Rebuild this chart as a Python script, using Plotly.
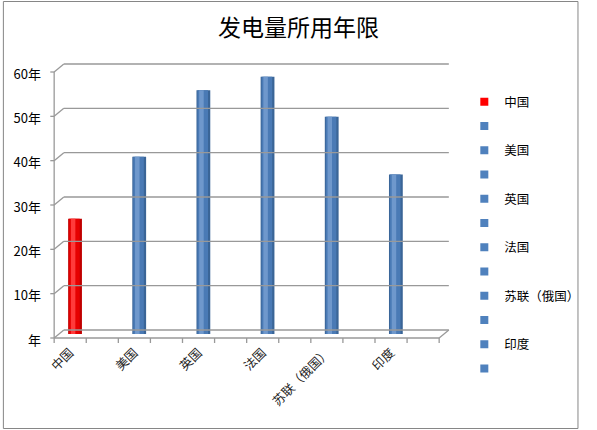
import plotly.graph_objects as go

title = "发电量所用年限"
categories = ["中国", "", "美国", "", "英国", "", "法国", "", "苏联（俄国）", "", "印度", ""]
values = [26, None, 40, None, 55, None, 58, None, 49, None, 36, None]
y_tickvals = [0, 10, 20, 30, 40, 50, 60]
y_ticktext = ["年", "10年", "20年", "30年", "40年", "50年", "60年"]

W, H = 597, 430
L, R, T, B = 59, 140, 68, 96
PW, PH = W - L - R, H - T - B
dxp, dyp = 5 / PW, 4 / PH
FONT = "Noto Sans CJK SC"
n = len(categories)
x = list(range(n))

def col(i, red, blue):
    return red if i == 0 else blue

fig = go.Figure()
layers = [
    (0.43, 0.0, "#C00000", "#3A6597"),
    (0.33, -0.02, "#E60000", "#4A7AB5"),
    (0.14, -0.06, "#FF3A3A", "#6F98CC"),
]
for w, off, red, blue in layers:
    fig.add_trace(go.Bar(
        x=x, y=values, width=w, offset=-w / 2 + off,
        marker=dict(color=[col(i, red, blue) for i in x], line=dict(width=0)),
        showlegend=False, hoverinfo="skip"))

for i, c in enumerate(categories):
    fig.add_trace(go.Scatter(
        x=[None], y=[None], mode="markers", name=c if c else " ",
        legendgroup="g%d" % i,
        marker=dict(symbol="square", size=8, color=col(i, "#FF0000", "#4F81BD"))))

shapes = []
grid = dict(color="#999999", width=1.3)
for v in y_tickvals:
    yp = v / 60
    shapes.append(dict(type="line", xref="paper", yref="paper",
                       x0=dxp, x1=1 + dxp, y0=yp + dyp, y1=yp + dyp, line=grid))
    shapes.append(dict(type="line", xref="paper", yref="paper",
                       x0=-dxp, x1=dxp, y0=yp - dyp, y1=yp + dyp, line=grid))
    shapes.append(dict(type="line", xref="paper", yref="paper",
                       x0=-dxp - 4 / PW, x1=-dxp, y0=yp - dyp, y1=yp - dyp, line=grid))
shapes.append(dict(type="line", xref="paper", yref="paper",
                   x0=-dxp, x1=1 - dxp, y0=-dyp, y1=-dyp, line=grid))
shapes.append(dict(type="line", xref="paper", yref="paper",
                   x0=1 - dxp, x1=1 + dxp, y0=-dyp, y1=dyp, line=grid))
shapes.append(dict(type="line", xref="paper", yref="paper",
                   x0=-dxp, x1=-dxp, y0=-dyp, y1=1 - dyp, line=grid))
for i in range(n + 1):
    xp = i / n - dxp
    shapes.append(dict(type="line", xref="paper", yref="paper",
                       x0=xp, x1=xp, y0=-dyp, y1=-dyp - 5 / PH, line=grid))
shapes.append(dict(type="rect", xref="paper", yref="paper",
                   x0=(1.5 - L) / PW, x1=(W - 1.5 - L) / PW,
                   y0=(PH + T - (H - 1.5)) / PH, y1=(PH + T - 1.5) / PH,
                   line=dict(color="#868686", width=1), layer="below"))

fig.update_layout(
    width=W, height=H,
    margin=dict(l=L, r=R, t=T, b=B),
    paper_bgcolor="white", plot_bgcolor="white",
    font=dict(family=FONT, size=13, color="black"),
    title=dict(text=title, x=0.5, xanchor="center", y=1 - 28 / H, yanchor="middle",
               font=dict(family=FONT, size=23, color="black")),
    barmode="overlay",
    showlegend=True,
    legend=dict(x=(478 - L) / PW, xanchor="left", y=(PH + T - 87) / PH, yanchor="top",
                font=dict(family=FONT, size=12.5), tracegroupgap=5, maxheight=380,
                bgcolor="rgba(0,0,0,0)", itemwidth=30),
    xaxis=dict(range=[-0.5, n - 0.5], tickmode="array", tickvals=x, ticktext=categories,
               tickangle=-45, showgrid=False, zeroline=False, showline=False, ticks="",
               ticklabelshift=-5, ticklabelstandoff=8, fixedrange=True,
               tickfont=dict(size=12.5, color="#222222")),
    yaxis=dict(range=[0, 60], tickmode="array", tickvals=y_tickvals, ticktext=y_ticktext,
               showgrid=False, zeroline=False, showline=False, ticks="",
               ticklabelshift=6, ticklabelstandoff=17, fixedrange=True),
    shapes=shapes,
)

fig.write_html(
    "out.html", config={"displayModeBar": False},
    post_script=("document.body.style.margin='0';"
                 "document.body.style.overflow='hidden';"
                 "document.documentElement.style.overflow='hidden';"))
